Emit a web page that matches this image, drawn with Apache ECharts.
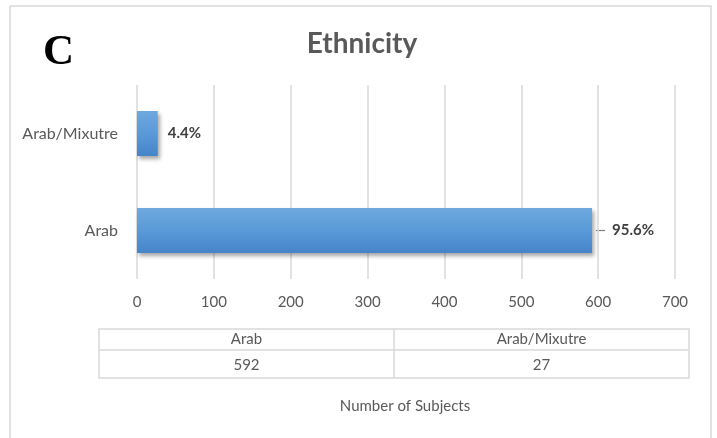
<!DOCTYPE html>
<html>
<head>
<meta charset="utf-8">
<style>
  html, body { margin: 0; padding: 0; background: #ffffff; }
  #chart { width: 717px; height: 438px; }
</style>
<script src="https://cdn.jsdelivr.net/npm/echarts@6/dist/echarts.min.js"></script>
</head>
<body>
<div id="chart"></div>
<script>
// Ethnicity of subjects
const categories = ['Arab', 'Arab/Mixutre'];
const subjects = [592, 27];
const axisTicks = [0, 100, 200, 300, 400, 500, 600, 700];
const panelLetter = 'C';
const chartTitle = 'Ethnicity';
const axisTitle = 'Number of Subjects';

const total = subjects.reduce((a, b) => a + b, 0);
const pct = v => (v / total * 100).toFixed(1) + '%';

const GRID = { left: 137, right: 42, top: 85, bottom: 159 };
const lineColor = '#d9d9d9';
const textColor = '#595959';
const font = 'Lato';

// data table under the axis, one column per category
const tableLeft = 99, tableRight = 689, tableTop = 329, tableMid = 350, tableBottom = 378;
const colW = (tableRight - tableLeft) / categories.length;
const tableGraphics = [
  { type: 'rect', shape: { x: tableLeft, y: tableTop, width: tableRight - tableLeft, height: tableBottom - tableTop },
    style: { fill: null, stroke: lineColor, lineWidth: 1.5 } },
  { type: 'line', shape: { x1: tableLeft, y1: tableMid, x2: tableRight, y2: tableMid },
    style: { stroke: lineColor, lineWidth: 1.5 } }
];
categories.forEach((c, i) => {
  if (i > 0) {
    tableGraphics.push({ type: 'line',
      shape: { x1: tableLeft + colW * i, y1: tableTop, x2: tableLeft + colW * i, y2: tableBottom },
      style: { stroke: lineColor, lineWidth: 1.5 } });
  }
  const cx = tableLeft + colW * (i + 0.5);
  tableGraphics.push({ type: 'text', x: cx, y: (tableTop + tableMid) / 2,
    style: { text: c, fill: textColor, font: '15px ' + font, align: 'center', verticalAlign: 'middle' } });
  tableGraphics.push({ type: 'text', x: cx, y: (tableMid + tableBottom) / 2 + 1,
    style: { text: String(subjects[i]), fill: textColor, font: '15px ' + font, align: 'center', verticalAlign: 'middle' } });
});

const chart = echarts.init(document.getElementById('chart'), null, { renderer: 'canvas' });

// the largest bar's label sits further out, joined by a short leader
const farLabel = 0;

chart.setOption({
  backgroundColor: '#ffffff',
  animation: false,
  title: {
    text: chartTitle,
    left: 357,
    top: 25,
    textAlign: 'center',
    textStyle: { fontFamily: font, fontWeight: 'bold', fontSize: 28, color: textColor }
  },
  grid: GRID,
  xAxis: {
    type: 'value',
    min: axisTicks[0],
    max: axisTicks[axisTicks.length - 1],
    interval: axisTicks[1] - axisTicks[0],
    axisLine: { show: false },
    axisTick: { show: false },
    splitLine: { show: true, lineStyle: { color: lineColor, width: 1.5 } },
    axisLabel: { color: textColor, fontFamily: font, fontSize: 15, margin: 16 }
  },
  yAxis: {
    type: 'category',
    data: categories,
    axisLine: { show: false },
    axisTick: { show: false },
    axisLabel: { color: textColor, fontFamily: font, fontSize: 16, margin: 19 }
  },
  series: [{
    type: 'bar',
    barWidth: 45,
    data: subjects.map((v, i) => ({
      value: v,
      label: { distance: i === farLabel ? 20 : 10 }
    })),
    itemStyle: {
      color: new echarts.graphic.LinearGradient(0, 0, 0, 1, [
        { offset: 0, color: '#6ea8de' },
        { offset: 0.5, color: '#5a9ad8' },
        { offset: 1, color: '#4584c8' }
      ]),
      shadowColor: 'rgba(0,0,0,0.35)',
      shadowBlur: 4,
      shadowOffsetX: 2,
      shadowOffsetY: 3
    },
    label: {
      show: true,
      position: 'right',
      formatter: p => pct(p.value),
      color: '#404040',
      fontFamily: font,
      fontWeight: 'bold',
      fontSize: 15
    }
  }],
  graphic: [
    { type: 'rect', shape: { x: 10, y: 6, width: 701, height: 460 },
      style: { fill: null, stroke: lineColor, lineWidth: 1.5 }, silent: true },
    { type: 'text', x: 43, y: 31,
      style: { text: panelLetter, fill: '#000000', font: 'bold 43px "Liberation Serif"' } },
    { type: 'text', x: 405, y: 406,
      style: { text: axisTitle, fill: textColor, font: '15px ' + font, align: 'center', verticalAlign: 'middle' } }
  ].concat(tableGraphics)
});

// leader tick between the bar end and its label, placed through the axes
const [endX, endY] = chart.convertToPixel({ gridIndex: 0 }, [subjects[farLabel], categories[farLabel]]);
chart.setOption({
  graphic: [{ id: 'leader', type: 'line', silent: true,
    shape: { x1: endX + 4, y1: endY, x2: endX + 13, y2: endY },
    style: { stroke: '#7f7f7f', lineWidth: 1.2 } }]
});
</script>
</body>
</html>
